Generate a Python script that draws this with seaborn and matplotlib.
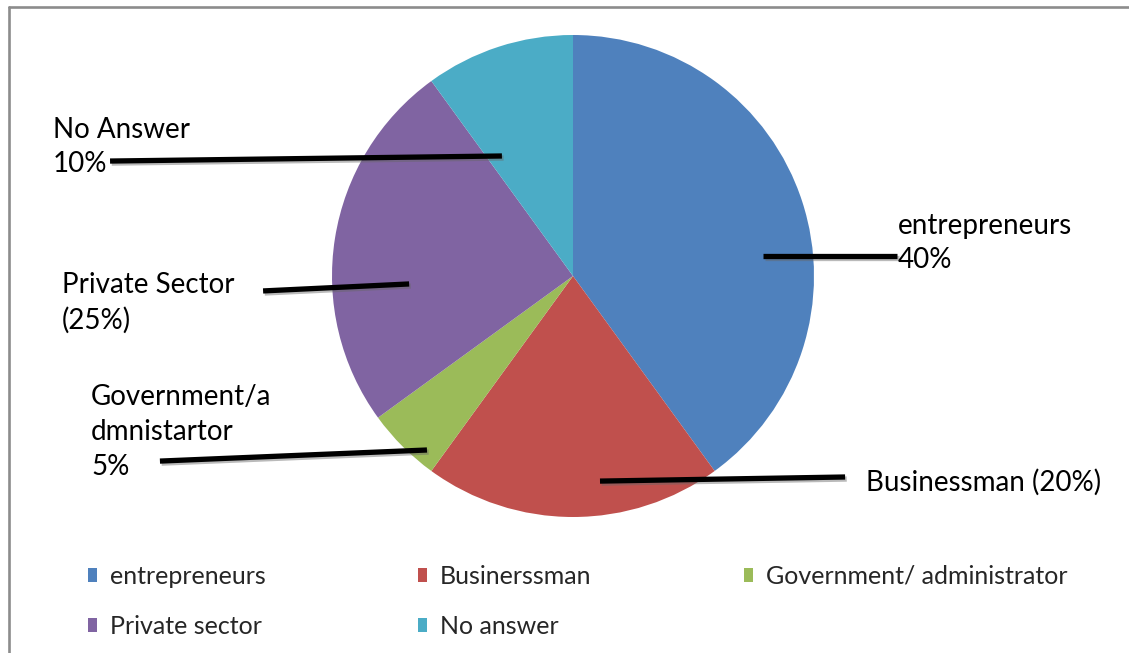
import matplotlib
matplotlib.use("Agg")
import matplotlib.pyplot as plt
import matplotlib.patheffects as pe
from matplotlib.lines import Line2D
import seaborn as sns

# ---- data ----
categories = ["entrepreneurs", "Businerssman", "Government/ administrator", "Private sector", "No answer"]
values = [40, 20, 5, 25, 10]
slice_labels = ["entrepreneurs\n40%", "Businessman (20%)", "Government/a\ndmnistartor\n5%",
                "Private Sector\n(25%)", "No Answer\n10%"]
colors = ["#4F81BD", "#C0504D", "#9BBB59", "#8064A2", "#4BACC6"]

# leader-line geometry (in pie-radius units) and label anchors
leader_inner = [(0.788, 0.083), (0.112, -0.851), (-0.606, -0.722), (-0.680, -0.033), (-0.295, 0.498)]
leader_outer = [(1.344, 0.083), (1.129, -0.834), (-1.714, -0.768), (-1.286, -0.062), (-1.921, 0.477)]
label_pos = [(1.349, 0.137), (1.216, -0.857), (-2.0, -0.647), (-2.120, -0.112), (-2.158, 0.535)]

sns.set_theme(style="white")
plt.rcParams["font.family"] = ["Lato", "DejaVu Sans"]
palette = sns.color_palette(colors)

W, H = 1129, 653
fig = plt.figure(figsize=(W / 100, H / 100), dpi=100)
fig.patch.set_facecolor("white")

cx, cy, r = 573, 276, 241
ax = fig.add_axes([(cx - r) / W, (H - cy - r) / H, 2 * r / W, 2 * r / H])
wedges, _ = ax.pie(values, colors=palette, startangle=90, counterclock=False,
                   radius=1, wedgeprops=dict(linewidth=0))
ax.set_xlim(-1, 1)
ax.set_ylim(-1, 1)
ax.set_aspect("equal")
ax.axis("off")

shadow = [pe.SimpleLineShadow(offset=(1.2, -1.5), shadow_color="0.4", alpha=0.45), pe.Normal()]
for (x0, y0), (x1, y1), (tx, ty), lab in zip(leader_inner, leader_outer, label_pos, slice_labels):
    ax.plot([x0, x1], [y0, y1], color="black", lw=3.8, solid_capstyle="butt",
            clip_on=False, path_effects=shadow, zorder=5)
    ax.text(tx, ty, lab, ha="left", va="center", fontsize=20, color="black",
            linespacing=1.42, clip_on=False, zorder=6)

# legend (row-major order via column filling)
order = [0, 3, 1, 4, 2]
handles = [wedges[i] for i in order]
labels = [categories[i] for i in order]
fig.legend(handles, labels, ncol=3, loc="upper left",
           bbox_to_anchor=(88 / W, 1 - 565 / H), frameon=False,
           fontsize=18, handlelength=0.36, handleheight=0.46, handletextpad=0.52,
           columnspacing=6.1, labelspacing=1.07, borderaxespad=0, borderpad=0)

# chart border (top and left visible)
fig.add_artist(Line2D([8.5 / W, 8.5 / W], [0, 1 - 6.5 / H], transform=fig.transFigure,
                      color="#8c8c8c", lw=1.9))
fig.add_artist(Line2D([8.5 / W, 1], [1 - 6.5 / H, 1 - 6.5 / H], transform=fig.transFigure,
                      color="#8c8c8c", lw=1.9))

fig.savefig("out.png", dpi=100, facecolor="white")
